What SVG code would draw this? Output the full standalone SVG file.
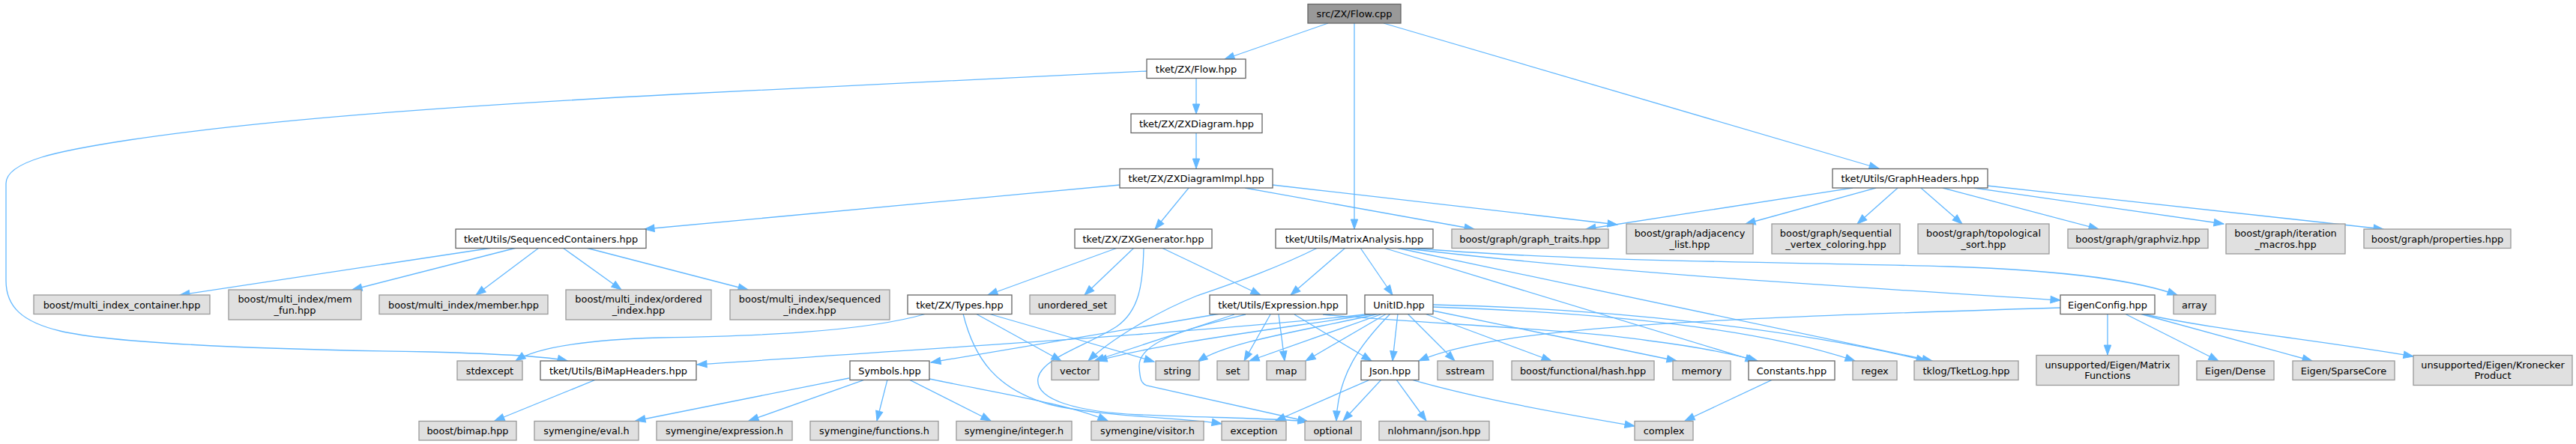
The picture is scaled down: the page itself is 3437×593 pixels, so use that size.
<svg xmlns="http://www.w3.org/2000/svg" width="3437" height="593" viewBox="0 0 3437 593">
<style>
rect{stroke-width:1.3}
.n rect{fill:#ffffff;stroke:#666666}
.g rect{fill:#e0e0e0;stroke:#999999}
.r rect{fill:#999999;stroke:#666666}
text{font-family:"DejaVu Sans","Liberation Sans",sans-serif;font-size:12.9px;text-anchor:middle;fill:#000}
#edges path{fill:none;stroke:#63b8ff;stroke-width:1.3;marker-end:url(#a)}
</style>
<defs>
<marker id="a" markerUnits="userSpaceOnUse" markerWidth="14" markerHeight="10" refX="13" refY="4.7" orient="auto" overflow="visible">
<path d="M0,0 L13,4.7 L0,9.4 z" fill="#63b8ff" stroke="#63b8ff" stroke-width="1"/>
</marker>
</defs>
<rect width="3437" height="593" fill="#ffffff"/>
<g id="edges">
<path d="M1772,31 L1634,79"/>
<path d="M1807,31 L1807,306"/>
<path d="M1846,31 L2507,225"/>
<path d="M1596,104 L1596,152"/>
<path d="M1530,95 L900,126 C600,142 350,160 172,187 C80,201 8,215 8,245 L8,375 C8,410 30,430 80,442 C140,456 300,466 574,470 C680,473 735,477 757,482"/>
<path d="M1596,177 L1596,225"/>
<path d="M1494,247 L860,306"/>
<path d="M1586,251 L1541,306"/>
<path d="M1661,251 L1967,306"/>
<path d="M1698,247 L2158,300"/>
<path d="M2472,251 L2116,306"/>
<path d="M2503,251 L2329,299"/>
<path d="M2532,251 L2478,299"/>
<path d="M2563,251 L2618,299"/>
<path d="M2592,251 L2800,306"/>
<path d="M2634,251 L2967,299"/>
<path d="M2651,248 L3180,306"/>
<path d="M657,331 L240,394"/>
<path d="M689,331 L470,387"/>
<path d="M719,331 L635,394"/>
<path d="M751,331 L829,387"/>
<path d="M782,331 L998,387"/>
<path d="M1491,331 L1318,394"/>
<path d="M1513,331 L1447,394"/>
<path d="M1550,331 L1682,394"/>
<path d="M1526,331 C1525,380 1520,415 1490,436 C1450,462 1390,478 1385,505 C1380,535 1440,550 1520,554 C1620,558 1710,559 1745,563"/>
<path d="M1236,419 C1150,444 1000,449 880,451 C780,454 715,464 688,482"/>
<path d="M1302,419 L1416,482"/>
<path d="M1319,419 L1540,483"/>
<path d="M1285,419 C1300,480 1330,520 1400,540 C1470,557 1580,558 1630,566"/>
<path d="M1133,505 L848,562"/>
<path d="M1154,507 L999,562"/>
<path d="M1184,507 L1170,562"/>
<path d="M1213,507 L1322,562"/>
<path d="M1240,506 C1330,525 1420,538 1478,562"/>
<path d="M1628,419 L1242,484"/>
<path d="M1647,420 L1460,482"/>
<path d="M1695,420 L1660,482"/>
<path d="M1706,420 L1714,482"/>
<path d="M1727,420 L1830,482"/>
<path d="M1662,420 C1590,438 1518,455 1520,490 C1521,505 1522,512 1530,515 L1745,563"/>
<path d="M1765,420 C1900,432 2100,440 2200,455 C2280,465 2320,475 2345,482"/>
<path d="M1830,419 C1650,440 1300,462 930,487"/>
<path d="M1835,419 C1700,440 1550,458 1464,482"/>
<path d="M1840,419 C1750,440 1640,455 1598,483"/>
<path d="M1845,419 L1667,482"/>
<path d="M1850,419 L1742,482"/>
<path d="M1855,419 C1815,460 1785,500 1783,562"/>
<path d="M1865,419 L1858,482"/>
<path d="M1878,419 L1941,482"/>
<path d="M1901,419 L2070,482"/>
<path d="M1912,415 L2237,482"/>
<path d="M1912,410 C2150,418 2350,440 2475,482"/>
<path d="M1912,407 C2150,412 2400,440 2570,482"/>
<path d="M1758,331 C1700,360 1640,380 1597,395 C1540,418 1480,455 1452,482"/>
<path d="M1795,331 L1722,394"/>
<path d="M1815,331 L1858,394"/>
<path d="M1846,331 L2342,482"/>
<path d="M1863,331 L2578,482"/>
<path d="M1869,331 C2150,365 2500,385 2749,401"/>
<path d="M1880,331 C2100,350 2400,350 2600,356 C2780,362 2860,378 2905,394"/>
<path d="M2749,411 C2300,425 2000,435 1893,482"/>
<path d="M2812,419 L2812,474"/>
<path d="M2835,419 L2960,482"/>
<path d="M2855,419 L3085,482"/>
<path d="M2858,419 C2950,440 3100,455 3220,476"/>
<path d="M1828,507 L1702,562"/>
<path d="M1843,507 L1792,562"/>
<path d="M1863,507 L1903,562"/>
<path d="M1883,507 C1980,535 2100,555 2181,569"/>
<path d="M2365,507 L2248,562"/>
<path d="M795,507 L660,562"/>
</g>
<g id="n_flow_cpp" class="r"><rect x="1745" y="5.5" width="124" height="25.5"/><text x="1807" y="23">src/ZX/Flow.cpp</text></g>
<g id="n_flow_hpp" class="n"><rect x="1530" y="79" width="132" height="25.5"/><text x="1596" y="96.5">tket/ZX/Flow.hpp</text></g>
<g id="n_zxdiagram" class="n"><rect x="1509" y="152" width="175" height="25.5"/><text x="1596.5" y="169.5">tket/ZX/ZXDiagram.hpp</text></g>
<g id="n_zxdiagramimpl" class="n"><rect x="1494" y="225.5" width="204" height="25.5"/><text x="1596" y="243">tket/ZX/ZXDiagramImpl.hpp</text></g>
<g id="n_graphheaders" class="n"><rect x="2445" y="225.5" width="207" height="25.5"/><text x="2548.5" y="243">tket/Utils/GraphHeaders.hpp</text></g>
<g id="n_seqcont" class="n"><rect x="608" y="306" width="254" height="25.5"/><text x="735" y="323.5">tket/Utils/SequencedContainers.hpp</text></g>
<g id="n_zxgenerator" class="n"><rect x="1434" y="306" width="183" height="25.5"/><text x="1525.5" y="323.5">tket/ZX/ZXGenerator.hpp</text></g>
<g id="n_matrixanalysis" class="n"><rect x="1702" y="306" width="210" height="25.5"/><text x="1807" y="323.5">tket/Utils/MatrixAnalysis.hpp</text></g>
<g id="n_graph_traits" class="g"><rect x="1937" y="306" width="209" height="25.5"/><text x="2041.5" y="323.5">boost/graph/graph_traits.hpp</text></g>
<g id="n_adjacency" class="g"><rect x="2170" y="299" width="169" height="40"/><text x="2254.5" y="316">boost/graph/adjacency</text><text x="2254.5" y="330.5">_list.hpp</text></g>
<g id="n_sequential" class="g"><rect x="2364" y="299" width="171" height="40"/><text x="2449.5" y="316">boost/graph/sequential</text><text x="2449.5" y="330.5">_vertex_coloring.hpp</text></g>
<g id="n_topological" class="g"><rect x="2559" y="299" width="175" height="40"/><text x="2646.5" y="316">boost/graph/topological</text><text x="2646.5" y="330.5">_sort.hpp</text></g>
<g id="n_graphviz" class="g"><rect x="2759" y="306" width="187" height="25.5"/><text x="2852.5" y="323.5">boost/graph/graphviz.hpp</text></g>
<g id="n_iteration" class="g"><rect x="2970" y="299" width="159" height="40"/><text x="3049.5" y="316">boost/graph/iteration</text><text x="3049.5" y="330.5">_macros.hpp</text></g>
<g id="n_properties" class="g"><rect x="3154" y="306" width="196" height="25.5"/><text x="3252" y="323.5">boost/graph/properties.hpp</text></g>
<g id="n_mic" class="g"><rect x="45" y="394" width="235" height="25.5"/><text x="162.5" y="411.5">boost/multi_index_container.hpp</text></g>
<g id="n_memfun" class="g"><rect x="305" y="387" width="177" height="40"/><text x="393.5" y="404">boost/multi_index/mem</text><text x="393.5" y="418.5">_fun.hpp</text></g>
<g id="n_member" class="g"><rect x="506" y="394" width="225" height="25.5"/><text x="618.5" y="411.5">boost/multi_index/member.hpp</text></g>
<g id="n_ordered" class="g"><rect x="755" y="387" width="194" height="40"/><text x="852" y="404">boost/multi_index/ordered</text><text x="852" y="418.5">_index.hpp</text></g>
<g id="n_sequenced" class="g"><rect x="974" y="387" width="213" height="40"/><text x="1080.5" y="404">boost/multi_index/sequenced</text><text x="1080.5" y="418.5">_index.hpp</text></g>
<g id="n_types" class="n"><rect x="1211" y="394" width="139" height="25.5"/><text x="1280.5" y="411.5">tket/ZX/Types.hpp</text></g>
<g id="n_unordered_set" class="g"><rect x="1374" y="394" width="114" height="25.5"/><text x="1431" y="411.5">unordered_set</text></g>
<g id="n_expression" class="n"><rect x="1614" y="394" width="183" height="25.5"/><text x="1705.5" y="411.5">tket/Utils/Expression.hpp</text></g>
<g id="n_unitid" class="n"><rect x="1821" y="394" width="91" height="25.5"/><text x="1866.5" y="411.5">UnitID.hpp</text></g>
<g id="n_eigenconfig" class="n"><rect x="2749" y="394" width="126" height="25.5"/><text x="2812" y="411.5">EigenConfig.hpp</text></g>
<g id="n_array" class="g"><rect x="2900" y="394" width="56" height="25.5"/><text x="2928" y="411.5">array</text></g>
<g id="n_stdexcept" class="g"><rect x="610" y="482" width="87" height="25.5"/><text x="653.5" y="499.5">stdexcept</text></g>
<g id="n_bimapheaders" class="n"><rect x="721" y="482" width="208" height="25.5"/><text x="825" y="499.5">tket/Utils/BiMapHeaders.hpp</text></g>
<g id="n_symbols" class="n"><rect x="1134" y="482" width="106" height="25.5"/><text x="1187" y="499.5">Symbols.hpp</text></g>
<g id="n_vector" class="g"><rect x="1403" y="482" width="63" height="25.5"/><text x="1434.5" y="499.5">vector</text></g>
<g id="n_string" class="g"><rect x="1542" y="482" width="58" height="25.5"/><text x="1571" y="499.5">string</text></g>
<g id="n_set" class="g"><rect x="1624" y="482" width="42" height="25.5"/><text x="1645" y="499.5">set</text></g>
<g id="n_map" class="g"><rect x="1690" y="482" width="52" height="25.5"/><text x="1716" y="499.5">map</text></g>
<g id="n_json" class="n"><rect x="1816" y="482" width="77" height="25.5"/><text x="1854.5" y="499.5">Json.hpp</text></g>
<g id="n_sstream" class="g"><rect x="1918" y="482" width="74" height="25.5"/><text x="1955" y="499.5">sstream</text></g>
<g id="n_hash" class="g"><rect x="2017" y="482" width="190" height="25.5"/><text x="2112" y="499.5">boost/functional/hash.hpp</text></g>
<g id="n_memory" class="g"><rect x="2232" y="482" width="77" height="25.5"/><text x="2270.5" y="499.5">memory</text></g>
<g id="n_constants" class="n"><rect x="2333" y="482" width="115" height="25.5"/><text x="2390.5" y="499.5">Constants.hpp</text></g>
<g id="n_regex" class="g"><rect x="2472" y="482" width="59" height="25.5"/><text x="2501.5" y="499.5">regex</text></g>
<g id="n_tklog" class="g"><rect x="2554" y="482" width="139" height="25.5"/><text x="2623.5" y="499.5">tklog/TketLog.hpp</text></g>
<g id="n_matrixfunctions" class="g"><rect x="2717" y="474.5" width="190" height="40"/><text x="2812" y="491.5">unsupported/Eigen/Matrix</text><text x="2812" y="506">Functions</text></g>
<g id="n_dense" class="g"><rect x="2931" y="482" width="103" height="25.5"/><text x="2982.5" y="499.5">Eigen/Dense</text></g>
<g id="n_sparsecore" class="g"><rect x="3059" y="482" width="136" height="25.5"/><text x="3127" y="499.5">Eigen/SparseCore</text></g>
<g id="n_kronecker" class="g"><rect x="3220" y="474.5" width="212" height="40"/><text x="3326" y="491.5">unsupported/Eigen/Kronecker</text><text x="3326" y="506">Product</text></g>
<g id="n_bimap" class="g"><rect x="559" y="562.5" width="130" height="25.5"/><text x="624" y="580">boost/bimap.hpp</text></g>
<g id="n_eval" class="g"><rect x="713" y="562.5" width="139" height="25.5"/><text x="782.5" y="580">symengine/eval.h</text></g>
<g id="n_sexpression" class="g"><rect x="876" y="562.5" width="181" height="25.5"/><text x="966.5" y="580">symengine/expression.h</text></g>
<g id="n_functions" class="g"><rect x="1081" y="562.5" width="171" height="25.5"/><text x="1166.5" y="580">symengine/functions.h</text></g>
<g id="n_integer" class="g"><rect x="1276" y="562.5" width="154" height="25.5"/><text x="1353" y="580">symengine/integer.h</text></g>
<g id="n_visitor" class="g"><rect x="1456" y="562.5" width="150" height="25.5"/><text x="1531" y="580">symengine/visitor.h</text></g>
<g id="n_exception" class="g"><rect x="1630" y="562.5" width="86" height="25.5"/><text x="1673" y="580">exception</text></g>
<g id="n_optional" class="g"><rect x="1741" y="562.5" width="75" height="25.5"/><text x="1778.5" y="580">optional</text></g>
<g id="n_nlohmann" class="g"><rect x="1840" y="562.5" width="147" height="25.5"/><text x="1913.5" y="580">nlohmann/json.hpp</text></g>
<g id="n_complex" class="g"><rect x="2181" y="562.5" width="78" height="25.5"/><text x="2220" y="580">complex</text></g>
</svg>
